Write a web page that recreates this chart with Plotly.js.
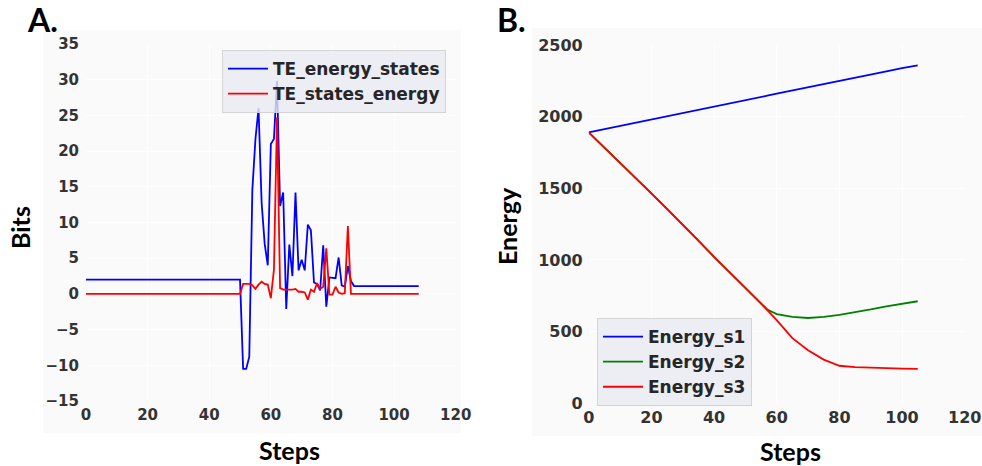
<!DOCTYPE html>
<html>
<head>
<meta charset="utf-8">
<script src="https://cdn.plot.ly/plotly-3.0.1.min.js"></script>
<style>
html,body{margin:0;padding:0;background:#ffffff;}
#chart{width:982px;height:466px;}
</style>
</head>
<body>
<div id="chart"></div>
<script>
// ---- Panel A data (transfer entropy, bits) ----
const stepsA = [0, 50, 51, 52, 53, 54, 55, 56, 57, 58, 59, 60, 61, 62, 63, 64, 65, 66, 67, 68, 69,
  70, 71, 72, 73, 74, 75, 76, 77, 78, 79, 80, 81, 82, 83, 84, 85, 86, 87, 88, 108];
const teEnergyStates = [2, 2, -10.5, -10.5, -8.8, 14.6, 21.7, 26, 12.8, 7, 4, 21, 21.7, 29.8, 12.3, 14.2, -2.1, 6.9, 2.5, 14.2, 3.3,
  4.8, 3.3, 9.7, 8.9, 1.6, 1.4, 0.5, 6.8, -1.8, 2.3, 2.3, 2.2, 5.1, 1.2, 1.0, 3.9, 1.8, 1.1, 1.1, 1.1];
const teStatesEnergy = [0, 0, 1.4, 1.4, 1.4, 1.2, 0.7, 1.3, 1.7, 1.4, 1.3, -0.6, 3.4, 24.7, 0.8, 0.6, 0.6, 0.5, 0.6, 0.7, 0.3,
  0.3, 0.2, -0.8, 0.6, 0.3, 1.5, 0.7, 1.0, 6.4, -0.1, -0.1, 1.0, 0.2, 0, 0.1, 9.5, 0, 0, 0, 0];

// ---- Panel B data (energy) ----
const stepsB = [0, 5, 10, 15, 20, 25, 30, 35, 40, 45, 50, 55, 57, 60, 65, 70, 75, 80, 85, 90, 95, 100, 105];
const energyS1 = [1890, 1912, 1935, 1958, 1983, 2004, 2026, 2048, 2070, 2093, 2115, 2137, 2146, 2160, 2183, 2205, 2227, 2250, 2272, 2294, 2316, 2338, 2358];
const energyS2 = [1890, 1785, 1678, 1570, 1465, 1357, 1248, 1135, 1022, 915, 805, 695, 655, 622, 603, 595, 603, 617, 635, 655, 677, 695, 712];
const energyS3 = [1890, 1785, 1678, 1570, 1465, 1357, 1248, 1135, 1022, 915, 805, 695, 650, 580, 455, 370, 305, 262, 252, 247, 244, 242, 240];

const ticksA_x = [0, 20, 40, 60, 80, 100, 120];
const ticksA_y = [-15, -10, -5, 0, 5, 10, 15, 20, 25, 30, 35];
const ticksB_x = [0, 20, 40, 60, 80, 100, 120];
const ticksB_y = [0, 500, 1000, 1500, 2000, 2500];

const W = 982, H = 466;
const tickFont = {family: 'DejaVu Sans', size: 15, color: '#333333', weight: 'bold'};
const legFont = {family: 'DejaVu Sans', size: 17, color: '#262626', weight: 'bold'};
const labFont = {family: 'Lato', size: 25, color: '#000000', weight: 'bold'};

const traces = [
  {x: stepsA, y: teEnergyStates, type: 'scatter', mode: 'lines', name: 'TE_energy_states',
   line: {color: '#0000ff', width: 1.8}, xaxis: 'x', yaxis: 'y', legend: 'legend'},
  {x: stepsA, y: teStatesEnergy, type: 'scatter', mode: 'lines', name: 'TE_states_energy',
   line: {color: '#ff0000', width: 1.8}, xaxis: 'x', yaxis: 'y', legend: 'legend'},
  {x: stepsB, y: energyS1, type: 'scatter', mode: 'lines', name: 'Energy_s1',
   line: {color: '#0000ff', width: 1.8}, xaxis: 'x2', yaxis: 'y2', legend: 'legend2'},
  {x: stepsB, y: energyS2, type: 'scatter', mode: 'lines', name: 'Energy_s2',
   line: {color: '#008000', width: 1.8}, xaxis: 'x2', yaxis: 'y2', legend: 'legend2'},
  {x: stepsB, y: energyS3, type: 'scatter', mode: 'lines', name: 'Energy_s3',
   line: {color: '#ff0000', width: 1.8}, xaxis: 'x2', yaxis: 'y2', legend: 'legend2'}
];

function axisBase(extra) {
  return Object.assign({
    showline: false, zeroline: false, showgrid: true, gridcolor: '#ffffff', gridwidth: 1,
    ticks: '', tickfont: tickFont, fixedrange: true
  }, extra);
}

const layout = {
  width: W, height: H,
  margin: {l: 0, r: 0, t: 0, b: 0},
  paper_bgcolor: '#ffffff',
  plot_bgcolor: '#eaeaf2',
  showlegend: true,
  xaxis: axisBase({domain: [86 / W, 455.7 / W], range: [0, 120], tickvals: ticksA_x, anchor: 'y', ticklabelstandoff: 3}),
  yaxis: axisBase({domain: [1 - 401 / H, 1 - 44 / H], range: [-15, 35], tickvals: ticksA_y, anchor: 'x', ticklabelstandoff: 6}),
  xaxis2: axisBase({domain: [588.7 / W, 964.7 / W], range: [0, 120], tickvals: ticksB_x, anchor: 'y2', ticklabelstandoff: 3, tickfont: Object.assign({}, tickFont, {size: 16})}),
  yaxis2: axisBase({domain: [1 - 403.3 / H, 1 - 45 / H], range: [0, 2500], tickvals: ticksB_y, anchor: 'x2', ticklabelstandoff: 5, tickfont: Object.assign({}, tickFont, {size: 16})}),
  legend: {x: 222 / W, y: 1 - 50 / H, xanchor: 'left', yanchor: 'top', bgcolor: 'rgba(234,234,242,0.8)',
    bordercolor: 'rgba(204,204,204,0.8)', borderwidth: 1, font: legFont, tracegroupgap: 0, itemwidth: 40},
  legend2: {x: 597 / W, y: 1 - 318 / H, xanchor: 'left', yanchor: 'top', bgcolor: 'rgba(234,234,242,0.8)',
    bordercolor: 'rgba(204,204,204,0.8)', borderwidth: 1, font: legFont, tracegroupgap: 0, itemwidth: 40},
  shapes: [
    {type: 'rect', xref: 'paper', yref: 'paper', x0: 43 / W, x1: 461 / W, y0: 1 - 433 / H, y1: 1 - 30 / H,
     fillcolor: '#fafafa', line: {width: 0}, layer: 'below'},
    {type: 'rect', xref: 'paper', yref: 'paper', x0: 532 / W, x1: 1, y0: 1 - 436 / H, y1: 1 - 28 / H,
     fillcolor: '#fafafa', line: {width: 0}, layer: 'below'}
  ],
  annotations: [
    {text: 'A.', xref: 'paper', yref: 'paper', x: 42 / W, y: 1 - 19 / H, showarrow: false,
     font: {family: 'Lato', size: 32, color: '#000000', weight: 'bold'}, xanchor: 'center', yanchor: 'middle'},
    {text: 'B.', xref: 'paper', yref: 'paper', x: 512 / W, y: 1 - 19 / H, showarrow: false,
     font: {family: 'Lato', size: 32, color: '#000000', weight: 'bold'}, xanchor: 'center', yanchor: 'middle'},
    {text: 'Steps', xref: 'paper', yref: 'paper', x: 289 / W, y: 1 - 450 / H, showarrow: false,
     font: labFont, xanchor: 'center', yanchor: 'middle'},
    {text: 'Bits', xref: 'paper', yref: 'paper', x: 20 / W, y: 1 - 228 / H, showarrow: false, textangle: -90,
     font: labFont, xanchor: 'center', yanchor: 'middle'},
    {text: 'Steps', xref: 'paper', yref: 'paper', x: 790 / W, y: 1 - 451 / H, showarrow: false,
     font: labFont, xanchor: 'center', yanchor: 'middle'},
    {text: 'Energy', xref: 'paper', yref: 'paper', x: 507 / W, y: 1 - 226 / H, showarrow: false, textangle: -90,
     font: labFont, xanchor: 'center', yanchor: 'middle'}
  ]
};

Plotly.newPlot('chart', traces, layout, {displayModeBar: false, staticPlot: true});
</script>
</body>
</html>
